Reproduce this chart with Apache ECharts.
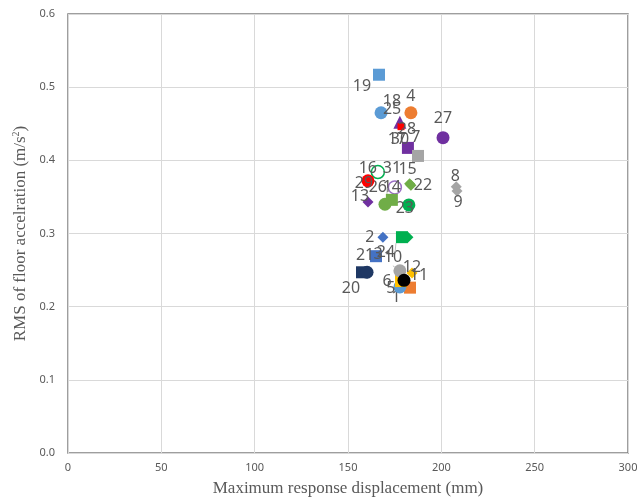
<!DOCTYPE html>
<html>
<head>
<meta charset="utf-8">
<script src="https://cdn.jsdelivr.net/npm/echarts@6/dist/echarts.min.js"></script>
<style>
  html, body { margin: 0; padding: 0; background: #fff; }
  #chart { width: 643px; height: 503px; }
</style>
</head>
<body>
<div id="chart"></div>
<script>
// Case numbers, maximum response displacement (mm) and RMS floor acceleration (m/s^2)
const caseNames = ['1','2','3','4','5','6','7','8','9','10','11','12','13','14','15','16',
                   '17','18','19','20','21','22','23','24','25','26','27','28','29','30','31'];
const displacement = [183.2, 168.7, 165.0, 183.7, 177.8, 178.4, 182.1, 208.0, 208.4, 177.8,
                      184.3, 180.0, 160.7, 175.1, 183.0, 166.0, 187.5, 177.8, 166.6, 157.5,
                      160.2, 183.7, 182.6, 178.9, 167.7, 173.5, 200.9, 178.4, 160.7, 182.1, 169.8];
const rmsAccel = [0.226, 0.295, 0.269, 0.465, 0.227, 0.235, 0.417, 0.364, 0.358, 0.249,
                  0.246, 0.236, 0.343, 0.363, 0.368, 0.384, 0.406, 0.452, 0.517, 0.247,
                  0.247, 0.366, 0.339, 0.295, 0.465, 0.346, 0.431, 0.446, 0.372, 0.295, 0.340];
const xTicks = [0, 50, 100, 150, 200, 250, 300];
const yTicks = [0, 0.1, 0.2, 0.3, 0.4, 0.5, 0.6];

// Marker style per case: [shape, colour, hollow]
const markerStyle = [
  ['rect', '#ED7D31', false], ['diamond', '#4472C4', false], ['rect', '#4472C4', false],
  ['circle', '#ED7D31', false], ['circle', '#5B9BD5', false], ['rect', '#FFC000', false],
  ['rect', '#7030A0', false], ['diamond', '#A5A5A5', false], ['diamond', '#A5A5A5', false],
  ['circle', '#A5A5A5', false], ['diamond', '#FFC000', false], ['circle', '#000000', false],
  ['diamond', '#7030A0', false], ['circle', '#9B6FC4', true], ['diamond', '#70AD47', false],
  ['circle', '#00B050', true], ['rect', '#A5A5A5', false], ['triangle', '#7030A0', false],
  ['rect', '#5B9BD5', false], ['rect', '#1F3864', false], ['circle', '#1F3864', false],
  ['diamond', '#70AD47', false], ['circle', '#00B050', false], ['rect', '#00B050', false],
  ['circle', '#5B9BD5', false], ['rect', '#70AD47', false], ['circle', '#7030A0', false],
  ['rect', '#FF0000', false], ['circle', '#FF0000', false], ['diamond', '#00B050', false],
  ['circle', '#70AD47', false]
];
// Label shift from each marker, in pixels
const labelShift = [
  [-14, 10], [-13, 0], [2, -2], [0, -16], [-9, 2], [-14, 0], [8, -10], [-1, -10],
  [1, 11], [-7, -13], [7, 2], [8, -13], [-8, -6], [-3, 0], [-2, -14], [-10, -4],
  [-21, -17], [-8, -21], [-17, 12], [-11, 16], [-2, -17], [12, 0], [-4, 3], [-16, 15],
  [11, -3], [-14, -12], [0, -19], [6, 3], [-4, 3], [-8, -98], [7, -36]
];
const guideCases = ['10', '26', '24'];

const sizeFor = { rect: 12, circle: 13, diamond: 11, triangle: 13 };

const series = caseNames.map((name, i) => {
  const [shape, color, hollow] = markerStyle[i];
  const small = name === '28';
  return {
    type: 'scatter',
    name: name,
    data: [[displacement[i], rmsAccel[i]]],
    symbol: shape,
    symbolSize: small ? 7 : sizeFor[shape],
    itemStyle: hollow
      ? { color: 'rgba(255,255,255,0)', borderColor: color, borderWidth: 1.5, opacity: 1 }
      : { color: color, opacity: 1 },
    label: {
      show: true,
      position: 'inside',
      formatter: name,
      color: '#595959',
      fontFamily: 'Noto Sans',
      fontSize: 16
    },
    labelLayout: { dx: labelShift[i][0], dy: labelShift[i][1] },
    labelLine: {
      show: guideCases.includes(name),
      lineStyle: { color: '#BFBFBF', width: 1 }
    },
    emphasis: { disabled: true },
    z: 2 + i
  };
});

const chart = echarts.init(document.getElementById('chart'), null, { renderer: 'canvas' });
chart.setOption({
  animation: false,
  backgroundColor: '#ffffff',
  grid: {
    left: 68, right: 15, top: 14, bottom: 50,
    show: true, borderColor: '#7F7F7F', borderWidth: 1.5, backgroundColor: 'transparent'
  },
  xAxis: {
    type: 'value',
    min: xTicks[0], max: xTicks[xTicks.length - 1], interval: 50,
    name: 'Maximum response displacement (mm)',
    nameLocation: 'middle',
    nameGap: 27,
    nameTextStyle: { fontFamily: 'Liberation Serif', fontSize: 17, color: '#595959' },
    axisLine: { show: false },
    axisTick: { show: false },
    axisLabel: { color: '#595959', fontSize: 11, fontFamily: 'Noto Sans', margin: 9 },
    splitLine: { show: true, lineStyle: { color: '#D9D9D9', width: 1 } }
  },
  yAxis: {
    type: 'value',
    min: yTicks[0], max: yTicks[yTicks.length - 1], interval: 0.1,
    name: 'RMS of floor accelration (m/s{sup|2})',
    nameLocation: 'middle',
    nameGap: 37,
    nameRotate: 90,
    nameTextStyle: {
      fontFamily: 'Liberation Serif', fontSize: 17, color: '#595959',
      rich: { sup: { fontFamily: 'Liberation Serif', fontSize: 10, color: '#595959', verticalAlign: 'top', padding: [0, 0, 8, 0] } }
    },
    axisLine: { show: false },
    axisTick: { show: false },
    axisLabel: {
      color: '#595959', fontSize: 11, fontFamily: 'Noto Sans', margin: 13,
      formatter: v => v.toFixed(1)
    },
    splitLine: { show: true, lineStyle: { color: '#D9D9D9', width: 1 } }
  },
  series: series
});
</script>
</body>
</html>
